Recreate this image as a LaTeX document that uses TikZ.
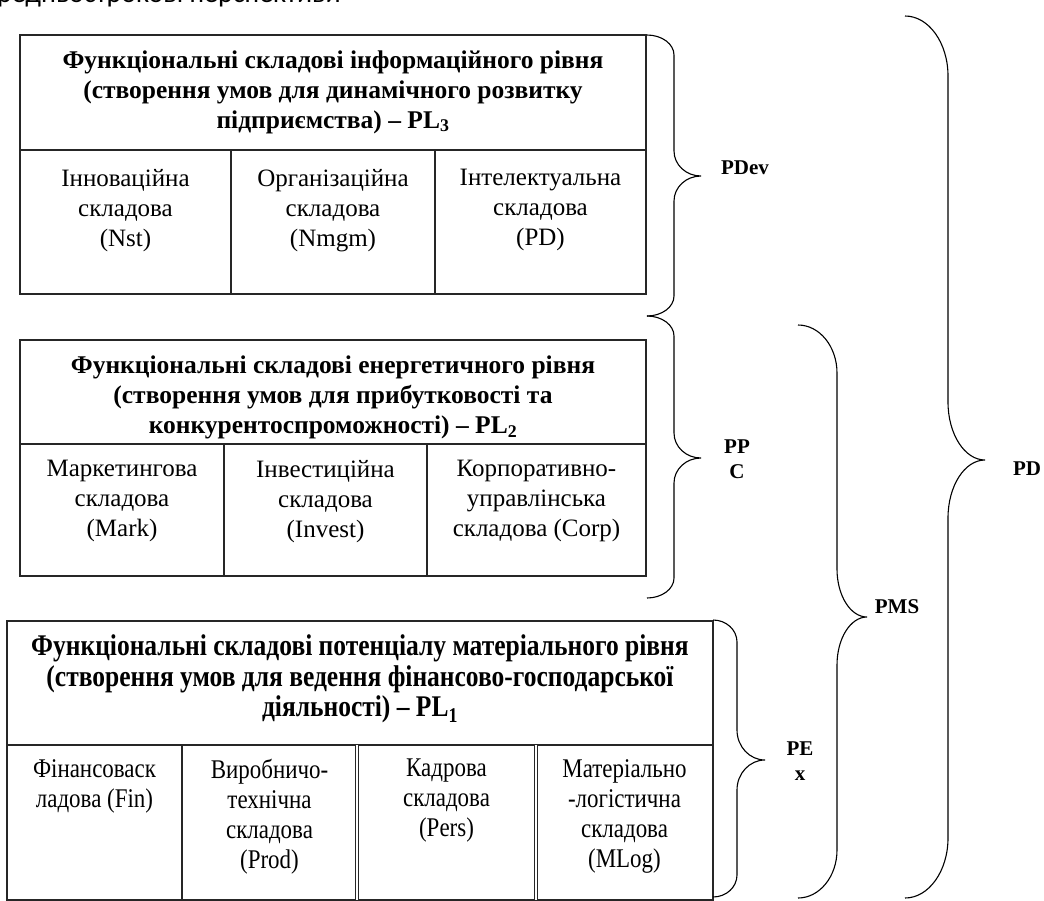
\documentclass[tikz,border=0pt]{standalone}
\usepackage{fontspec}
\setmainfont{Liberation Serif}
\newfontfamily\topfont{Carlito}
\newfontfamily\tallfont[FakeStretch=0.85]{Liberation Serif}
\newcommand{\wbrace}[8]{%
  \draw[brc] (#1,#2) .. controls ({#1+0.552*(#4-#1)},#2) and (#4,{#2+0.448*#7}) .. (#4,{#2+#7})
    -- (#4,{#6-#8}) .. controls (#4,{#6-0.448*#8}) and ({#5-0.552*(#5-#4)},#6) .. (#5,#6)
    .. controls ({#5-0.552*(#5-#4)},#6) and (#4,{#6+0.448*#8}) .. (#4,{#6+#8})
    -- (#4,{#3-#7}) .. controls (#4,{#3-0.448*#7}) and ({#1+0.552*(#4-#1)},#3) .. (#1,#3);}
\begin{document}
\begin{tikzpicture}[x=1pt,y=-1pt,
  boxline/.style={line width=1.3pt, draw=black!85},
  hdr/.style={font=\fontsize{25.5}{30}\selectfont\bfseries, align=center, inner sep=0pt},
  cell/.style={font=\fontsize{25}{30}\selectfont, align=center, inner sep=0pt, anchor=north},
  hdrt/.style={font=\tallfont\fontsize{30}{30.5}\selectfont\bfseries, align=center, inner sep=0pt},
  cellt/.style={font=\tallfont\fontsize{27}{30}\selectfont, align=center, inner sep=0pt, anchor=north},
  brlbl/.style={font=\fontsize{21}{25}\selectfont\bfseries, align=center, inner sep=0pt},
  brc/.style={line width=1.1pt}]
\useasboundingbox (0,0) rectangle (1044,900);
% clipped top line
\node[font=\topfont\fontsize{28}{30}\selectfont, anchor=base west, inner sep=0pt] (toptext) at (-3,2.5) {редньострокові перспективи};
% ---- Box PL3
\draw[boxline] (20,35) rectangle (646,294);
\draw[boxline] (20,150) -- (646,150);
\draw[boxline] (231,150) -- (231,294);
\draw[boxline] (435,150) -- (435,294);
\node[hdr] (h3) at (333,92) {Функціональні складові інформаційного рівня\\(створення умов для динамічного розвитку\\підприємства) – PL\textsubscript{3}};
\node[cell] (c31) at (125.5,169) {Інноваційна\\складова\\(Nst)};
\node[cell] (c32) at (333,169) {Організаційна\\складова\\(Nmgm)};
\node[cell] (c33) at (540.5,169) {Інтелектуальна\\складова\\(PD)};
% ---- Box PL2
\draw[boxline] (20,340) rectangle (646,576);
\draw[boxline] (20,444) -- (646,444);
\draw[boxline] (224,444) -- (224,576);
\draw[boxline] (427,444) -- (427,576);
\node[hdr] (h2) at (333,397.5) {Функціональні складові енергетичного рівня\\(створення умов для прибутковості та\\конкурентоспроможності) – PL\textsubscript{2}};
\node[cell] (c21) at (122,460) {Маркетингова\\складова\\(Mark)};
\node[cell] (c22) at (325.5,460) {Інвестиційна\\складова\\(Invest)};
\node[cell] (c23) at (536.5,460) {Корпоративно-\\управлінська\\складова (Corp)};
% ---- Box PL1
\draw[boxline] (7,621) rectangle (713,900);
\draw[boxline] (7,745) -- (713,745);
\draw[boxline] (182,745) -- (182,900);
\draw[boxline, double, double distance=1.2pt] (357,745) -- (357,900);
\draw[boxline, double, double distance=1.2pt] (536,745) -- (536,900);
\node[hdrt] (h1) at (360,679) {Функціональні складові потенціалу матеріального рівня\\(створення умов для ведення фінансово-господарської\\діяльності) – PL\textsubscript{1}};
\node[cellt] (c11) at (94.5,759) {Фінансоваск\\ладова (Fin)};
\node[cellt] (c12) at (269.5,759) {Виробничо-\\технічна\\складова\\(Prod)};
\node[cellt] (c13) at (446.5,759) {Кадрова\\складова\\(Pers)};
\node[cellt] (c14) at (624.5,759) {Матеріально\\-логістична\\складова\\(MLog)};
% ---- Braces
\wbrace{647}{35}{316}{674}{701}{176}{20}{25}
\wbrace{647}{316}{598}{674}{701}{458}{20}{25}
\wbrace{713}{620}{897}{737}{765}{760}{22}{30}
\wbrace{798}{325}{898}{837}{867}{617}{48}{48}
\wbrace{905}{16}{898}{948}{985}{460}{60}{58}
% ---- Labels
\node[brlbl] (pdev) at (745,168) {PDev};
\node[brlbl] (ppc) at (737,459) {PP\\C};
\node[brlbl] (pex) at (800,761) {PE\\x};
\node[brlbl] (pms) at (897,607) {PMS};
\node[brlbl] (pd) at (1027,469) {PD};
\end{tikzpicture}
\end{document}
